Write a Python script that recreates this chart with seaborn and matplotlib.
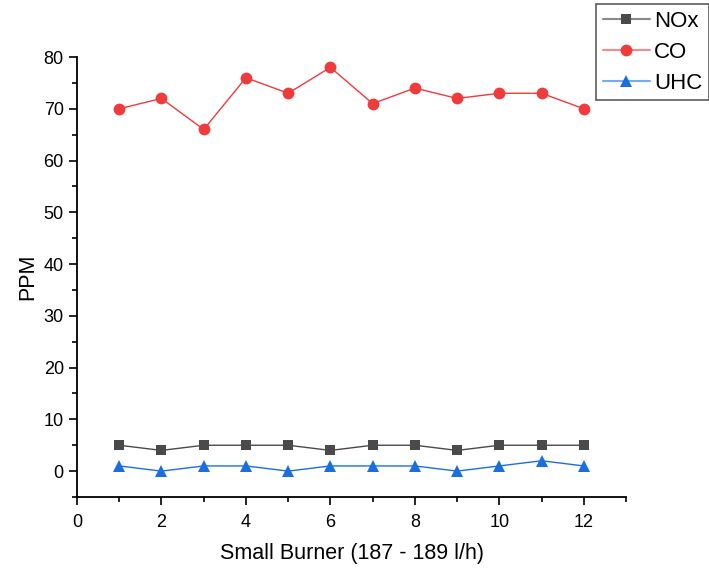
import matplotlib
matplotlib.use("Agg")
import matplotlib.pyplot as plt
import seaborn as sns
import pandas as pd
from matplotlib.ticker import MultipleLocator

sns.set_style("ticks")
plt.rcParams['font.family'] = ['Liberation Sans', 'DejaVu Sans']
plt.rcParams['text.color'] = 'black'
plt.rcParams['axes.labelcolor'] = 'black'

x = [1, 2, 3, 4, 5, 6, 7, 8, 9, 10, 11, 12]
nox = [5, 4, 5, 5, 5, 4, 5, 5, 4, 5, 5, 5]
co = [70, 72, 66, 76, 73, 78, 71, 74, 72, 73, 73, 70]
uhc = [1, 0, 1, 1, 0, 1, 1, 1, 0, 1, 2, 1]

df = pd.DataFrame({"x": x * 3,
                   "val": nox + co + uhc,
                   "series": ["NOx"] * 12 + ["CO"] * 12 + ["UHC"] * 12})

fig = plt.figure(figsize=(7.09, 5.68), dpi=100)
ax = fig.add_axes([0.1086, 0.125, 0.7744, 0.7746])

palette = {"NOx": "#4a4a4a", "CO": "#ef3b3b", "UHC": "#1a6fe0"}
light = {"NOx": "#8a8a8a", "CO": "#f58a8a", "UHC": "#7aa9ee"}
markers = {"NOx": "s", "CO": "o", "UHC": "^"}
msizes = {"NOx": 7.2, "CO": 8.5, "UHC": 8.5}
for name in ["NOx", "CO", "UHC"]:
    sub = df[df.series == name]
    sns.lineplot(data=sub, x="x", y="val", ax=ax, color=palette[name],
                 marker=markers[name], markersize=msizes[name],
                 markeredgewidth=0, linewidth=1.0, label=name)

ax.set_xlim(0, 13)
ax.set_ylim(-5, 80)
ax.xaxis.set_major_locator(MultipleLocator(2))
ax.xaxis.set_minor_locator(MultipleLocator(1))
ax.yaxis.set_major_locator(MultipleLocator(10))
ax.yaxis.set_minor_locator(MultipleLocator(5))
ax.tick_params(which="major", length=6, width=1.2, labelsize=13, colors="black")
ax.tick_params(axis="x", which="major", pad=6)
ax.tick_params(which="minor", length=3.5, width=1.2, colors="black")
for s in ["top", "right"]:
    ax.spines[s].set_visible(False)
for s in ["left", "bottom"]:
    ax.spines[s].set_linewidth(1.3)
    ax.spines[s].set_color("black")

ax.set_xlabel("Small Burner (187 - 189 l/h)", fontsize=15.5, labelpad=9, color="black")
ax.set_ylabel("PPM", fontsize=15.5, labelpad=4, color="black")

leg = ax.legend(loc="upper right", bbox_to_anchor=(1.0, 0.993), bbox_transform=fig.transFigure,
                fontsize=16, frameon=True, fancybox=False, edgecolor="#333333",
                handlelength=2.1, handletextpad=0.2, borderpad=0.3, labelspacing=0.45,
                borderaxespad=0)
leg.get_frame().set_linewidth(1.2)
for t in leg.get_texts():
    t.set_color("black")
for line, name in zip(leg.get_lines(), ["NOx", "CO", "UHC"]):
    line.set_linewidth(1.5)
    line.set_color(light[name])
    line.set_markerfacecolor(palette[name])
    line.set_markeredgecolor(palette[name])

fig.savefig("out.png", dpi=100)
